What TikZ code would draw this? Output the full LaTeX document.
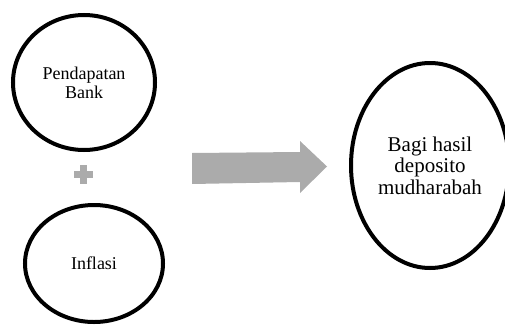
\documentclass[tikz,border=0pt]{standalone}
\usepackage{fontspec}
\setmainfont{Liberation Serif}
\usetikzlibrary{shapes.geometric}
\begin{document}
\begin{tikzpicture}[x=1pt,y=-1pt,
  oval/.style={ellipse,draw=black,line width=4pt,inner sep=0pt,align=center,fill=white},
  plusbar/.style={fill=black!33,draw=none}]
\useasboundingbox (0,0) rectangle (505,324);
\clip (0,0) rectangle (505,324);
% left ellipses
\node[oval,minimum width=142pt,minimum height=135pt,
      font=\fontsize{18}{19}\selectfont] (bank) at (84,82.5) {Pendapatan\\Bank};
\node[oval,minimum width=138pt,minimum height=117pt,
      font=\fontsize{18}{19}\selectfont] (inf) at (94,263.5) {\raisebox{-2.5pt}{Inflasi}};
% plus sign
\coordinate (plus) at (83.5,174.5);
\fill[plusbar] ([xshift=-9.5pt,yshift=3.25pt]plus) rectangle ([xshift=9.5pt,yshift=-3.25pt]plus);
\fill[plusbar] ([xshift=-3.25pt,yshift=9.5pt]plus) rectangle ([xshift=3.25pt,yshift=-9.5pt]plus);
% block arrow
\fill[black!33] (192,153) -- (300,152) -- (300,141) -- (327,166.5) -- (300,193) -- (300,182) -- (192,184) -- cycle;
% right ellipse
\node[oval,minimum width=158pt,minimum height=205pt,
      font=\fontsize{21}{21.5}\selectfont] (bagi) at (430,165.5) {Bagi hasil\\deposito\\mudharabah};
\end{tikzpicture}
\end{document}
